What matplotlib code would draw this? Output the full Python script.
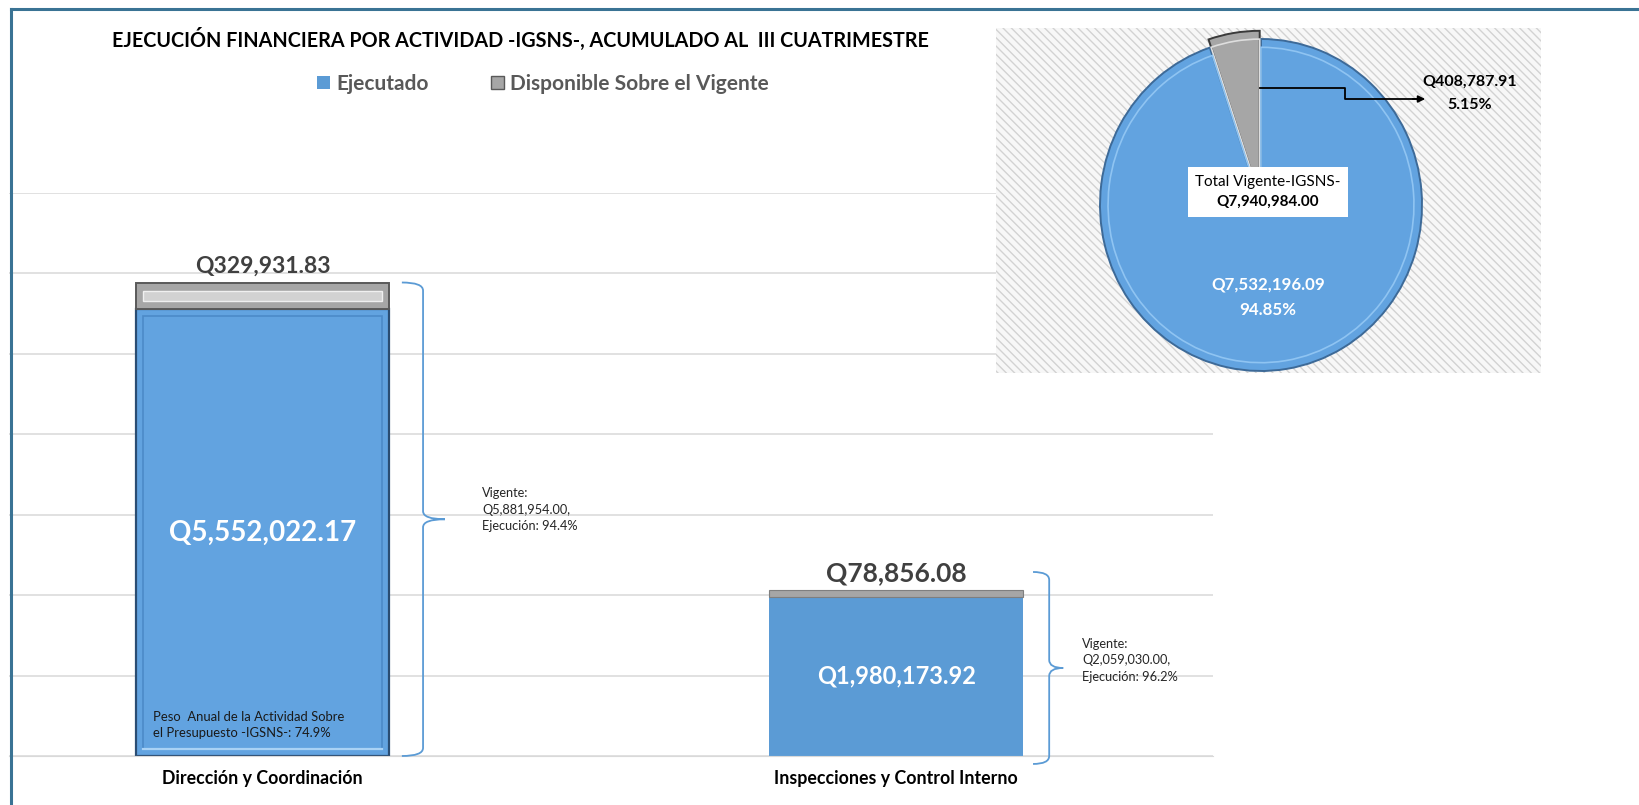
import numpy as np
import matplotlib.pyplot as plt
from matplotlib.patches import Rectangle, Patch, PathPatch, FancyArrowPatch
from matplotlib.path import Path
from matplotlib.lines import Line2D

plt.rcParams['font.family'] = ['Lato', 'DejaVu Sans']

# datos
categorias = ['Dirección y Coordinación', 'Inspecciones y Control Interno']
ejecutado = [5552022.17, 1980173.92]
disponible = [329931.83, 78856.08]
vigente = [5881954.00, 2059030.00]
pct_ejecucion = [94.4, 96.2]
peso_anual = 74.9
pie_etiquetas = ['Disponible Sobre el Vigente', 'Ejecutado']
pie_valores = [408787.91, 7532196.09]
pie_pct = [5.15, 94.85]
total_vigente = 7940984.00

azul = '#5b9bd5'
azul1 = '#62a3e0'
gris = '#a6a6a6'

W, H = 1639, 805
fig = plt.figure(figsize=(W / 100, H / 100), dpi=100)


def px(x, y):
    return x / W, 1 - y / H


def q(v):
    return 'Q{:,.2f}'.format(v)


# marco del grafico
fig.add_artist(Line2D([11 / W, 11 / W], [0, 1 - 9 / H], color='#3a7394', lw=2.2))
fig.add_artist(Line2D([11 / W, 1], [1 - 9 / H, 1 - 9 / H], color='#3a7394', lw=2.2))

# ---- barras
ax = fig.add_axes([9 / W, 49 / H, 1204 / W, 563.5 / H])
x = np.arange(len(categorias))
ax.bar(x[1], ejecutado[1], 0.4, color=azul, zorder=2)
ax.bar(x[1], disponible[1], 0.4, bottom=ejecutado[1], color=gris,
       edgecolor='#7f7f7f', lw=0.8, zorder=2)
# barra 1 con bisel
ax.bar(x[0], ejecutado[0], 0.4, color=azul1, edgecolor='#2a4d73', lw=1.6, zorder=2)
ax.bar(x[0], disponible[0], 0.4, bottom=ejecutado[0], color=gris,
       edgecolor='#595959', lw=1.4, zorder=2)
dx = 7 / 633.5
dy = 7 / 80.5 * 1e6
ax.add_patch(Rectangle((x[0] - 0.2 + dx, dy), 0.4 - 2 * dx, ejecutado[0] - 2 * dy,
                       fill=False, edgecolor='#4c8ac8', lw=1.2, zorder=3))
ax.plot([x[0] - 0.2 + dx, x[0] + 0.2 - dx], [dy, dy], color='#a9d2f5', lw=1.6, zorder=3)
ax.add_patch(Rectangle((x[0] - 0.2 + dx, ejecutado[0] + disponible[0] * 0.32), 0.4 - 2 * dx,
                       disponible[0] * 0.36, facecolor='#d2d2d2', edgecolor='#f0f0f0',
                       lw=1.0, zorder=3))

tam_valor = [20, 17]
tam_disp = [16.5, 19]
for i in range(len(categorias)):
    ax.text(x[i], ejecutado[i] / 2, q(ejecutado[i]), color='white', ha='center',
            va='center', fontsize=tam_valor[i], fontweight='bold', zorder=4)
    ax.annotate(q(disponible[i]), (x[i], vigente[i]), xytext=(0, 4),
                textcoords='offset points', ha='center', va='bottom',
                fontsize=tam_disp[i], fontweight='bold', color='#404040')


def llave(ax, xh, xs, xt, yt, yb, r=0.1e6):
    ym = (yt + yb) / 2
    verts = [(xh, yt), (xs, yt), (xs, yt - r),
             (xs, ym + r), (xs, ym), (xt, ym),
             (xs, ym), (xs, ym - r),
             (xs, yb + r), (xs, yb), (xh, yb)]
    codes = [Path.MOVETO, Path.CURVE3, Path.CURVE3,
             Path.LINETO, Path.CURVE3, Path.CURVE3,
             Path.CURVE3, Path.CURVE3,
             Path.LINETO, Path.CURVE3, Path.CURVE3]
    ax.add_patch(PathPatch(Path(verts, codes), fill=False, edgecolor=azul,
                           lw=1.3, clip_on=False, zorder=3))


llave(ax, 0.220, 0.2534, 0.288, vigente[0], 0.0)
llave(ax, 1.216, 1.2415, 1.2636, 2.286e6, -0.099e6)

ax.set_xlim(-0.4, 1.5)
ax.set_ylim(0, 7e6)
ax.set_yticks(np.arange(0, 7.1e6, 1e6))
ax.yaxis.grid(True, color='#d9d9d9', lw=1.1, zorder=0)
ax.set_axisbelow(True)
ax.tick_params(axis='y', left=False, labelleft=False)
ax.tick_params(axis='x', length=0, pad=10)
ax.set_xticks(x, categorias, fontsize=12.8, fontweight='bold')
for s in ['top', 'right', 'left']:
    ax.spines[s].set_visible(False)
ax.spines['bottom'].set_color('#d9d9d9')

fig.text(*px(482, 509.5), 'Vigente:\n' + q(vigente[0]) + ',\nEjecución: {}%'.format(pct_ejecucion[0]),
         fontsize=9.2, linespacing=1.45, va='center', ha='left', color='#262626')
fig.text(*px(1082, 660), 'Vigente:\n' + q(vigente[1]) + ',\nEjecución: {}%'.format(pct_ejecucion[1]),
         fontsize=9.2, linespacing=1.45, va='center', ha='left', color='#262626')
fig.text(*px(153, 725), 'Peso  Anual de la Actividad Sobre\nel Presupuesto -IGSNS-: {}%'.format(peso_anual),
         fontsize=9.4, linespacing=1.45, va='center', ha='left', color='#1a1a1a', zorder=5)

# titulo y leyenda
fig.text(*px(520, 39), 'EJECUCIÓN FINANCIERA POR ACTIVIDAD -IGSNS-, ACUMULADO AL  III CUATRIMESTRE',
         ha='center', va='center', fontsize=14.2, fontweight='bold', color='black')
handles = [Patch(facecolor=azul), Patch(facecolor=gris, edgecolor='#595959')]
fig.legend(handles, ['Ejecutado', 'Disponible Sobre el Vigente'], loc='center',
           bbox_to_anchor=px(543, 84), ncol=2, frameon=False,
           prop=dict(weight='bold', size=15), labelcolor='#595959',
           handlelength=0.6, handleheight=0.6, handletextpad=0.3, columnspacing=3.0)

# ---- pastel
ax_bg = fig.add_axes([996 / W, (H - 373) / H, 545 / W, 345 / H], zorder=1)
ax_bg.axis('off')
ax_bg.add_patch(Rectangle((0, 0), 1, 1, transform=ax_bg.transAxes, facecolor='#f7f7f7',
                          edgecolor='#d2d2d2', hatch='\\\\\\\\', lw=0))

cx, cy, rx, ry = 1261, 205, 161, 166
ax_p = fig.add_axes([(cx - rx) / W, (H - cy - ry) / H, 2 * rx / W, 2 * ry / H], zorder=2)
cuñas, _ = ax_p.pie(pie_valores, colors=[gris, azul1], startangle=90, explode=[0.05, 0.0],
                    wedgeprops=dict(lw=1.4))
cuñas[0].set_edgecolor('#3a3a3a')
cuñas[1].set_edgecolor('#3d6a98')
bisel, _ = ax_p.pie(pie_valores, startangle=90, explode=[0.05, 0.0], radius=0.95,
                    wedgeprops=dict(lw=1.2, fill=False))
bisel[0].set_edgecolor('#dedede')
bisel[1].set_edgecolor('#8fc4f2')
ax_p.set_aspect('auto')
ax_p.set_xlim(-1.0, 1.0)
ax_p.set_ylim(-1.0, 1.0)

fig.text(*px(1268, 285), q(pie_valores[1]), color='white', ha='center', va='center',
         fontsize=12.2, fontweight='bold', zorder=6)
fig.text(*px(1268, 310), '{:.2f}%'.format(pie_pct[1]), color='white', ha='center', va='center',
         fontsize=12.2, fontweight='bold', zorder=6)

fig.add_artist(Rectangle(px(1188, 217), 160 / W, 50 / H, facecolor='white',
                         edgecolor='none', zorder=5))
fig.text(*px(1268, 182), 'Total Vigente-IGSNS-', ha='center', va='center', fontsize=11, zorder=6)
fig.text(*px(1268, 202), q(total_vigente), ha='center', va='center', fontsize=11,
         fontweight='bold', zorder=6)

# flecha de la etiqueta
xs = [1260, 1345, 1345, 1420]
ys = [88, 88, 99, 99]
fig.add_artist(Line2D([v / W for v in xs], [1 - v / H for v in ys], color='black', lw=1.3, zorder=5))
fig.add_artist(FancyArrowPatch(px(1410, 99), px(1428, 99), transform=fig.transFigure,
                               arrowstyle='-|>', mutation_scale=10, color='black', lw=1.3, zorder=5))
fig.text(*px(1470, 82), q(pie_valores[0]), ha='center', va='center', fontsize=11.5,
         fontweight='bold', zorder=6)
fig.text(*px(1470, 105), '{:.2f}%'.format(pie_pct[0]), ha='center', va='center', fontsize=11.5,
         fontweight='bold', zorder=6)

fig.savefig('out.png', dpi=100, facecolor='white')
